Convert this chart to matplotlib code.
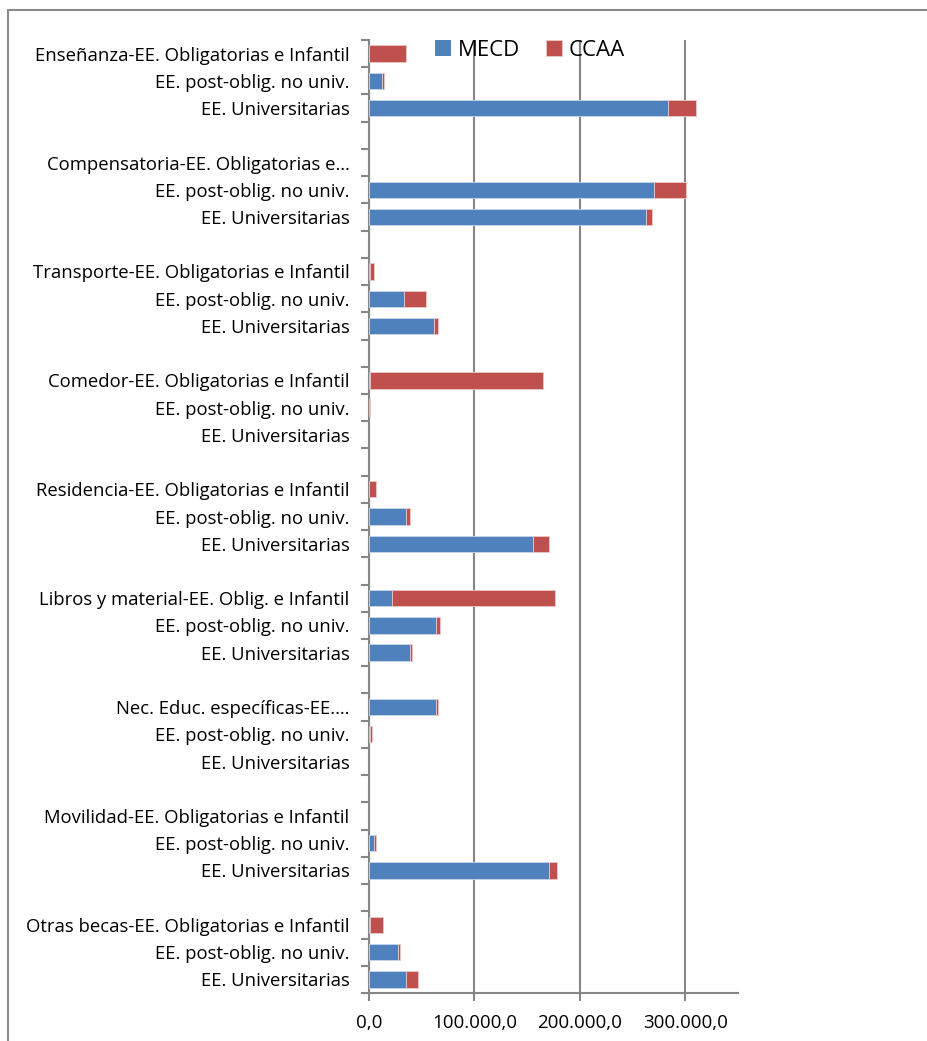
import matplotlib
matplotlib.use("Agg")
import matplotlib.pyplot as plt
import numpy as np
from matplotlib.ticker import FuncFormatter, FixedLocator
from matplotlib.patches import Rectangle

plt.rcParams['font.family'] = ['Liberation Sans Narrow', 'Open Sans', 'DejaVu Sans']

# categories, top to bottom ("" = empty spacer row)
labels = [
    "Enseñanza-EE. Obligatorias e Infantil", "EE. post-oblig. no univ.", "EE. Universitarias", "",
    "Compensatoria-EE. Obligatorias e…", "EE. post-oblig. no univ.", "EE. Universitarias", "",
    "Transporte-EE. Obligatorias e Infantil", "EE. post-oblig. no univ.", "EE. Universitarias", "",
    "Comedor-EE. Obligatorias e Infantil", "EE. post-oblig. no univ.", "EE. Universitarias", "",
    "Residencia-EE. Obligatorias e Infantil", "EE. post-oblig. no univ.", "EE. Universitarias", "",
    "Libros y material-EE. Oblig. e Infantil", "EE. post-oblig. no univ.", "EE. Universitarias", "",
    "Nec. Educ. específicas-EE.…", "EE. post-oblig. no univ.", "EE. Universitarias", "",
    "Movilidad-EE. Obligatorias e Infantil", "EE. post-oblig. no univ.", "EE. Universitarias", "",
    "Otras becas-EE. Obligatorias e Infantil", "EE. post-oblig. no univ.", "EE. Universitarias",
]

# thousands of euros
mecd = [
    0, 12.3, 284.0, 0,
    0, 270.4, 262.9, 0,
    0.5, 33.3, 61.3, 0,
    0.5, 0, 0, 0,
    0, 35.0, 155.7, 0,
    22.0, 63.5, 38.7, 0,
    63.5, 1.0, 0, 0,
    0, 5.0, 170.8, 0,
    1.0, 27.7, 35.0,
]
ccaa = [
    35.0, 2.1, 26.0, 0,
    0, 30.2, 5.7, 0,
    4.5, 20.5, 4.1, 0,
    164.3, 1.2, 0, 0,
    6.9, 4.0, 15.1, 0,
    154.4, 3.8, 2.2, 0,
    1.9, 2.0, 0, 0,
    0, 1.9, 7.5, 0,
    12.5, 1.9, 11.6,
]

mecd = np.array(mecd) * 1000
ccaa = np.array(ccaa) * 1000

fig = plt.figure(figsize=(9.27, 10.41), dpi=100)
ax = fig.add_axes([369 / 927, 48 / 1041, 369 / 927, 953 / 1041])

y = np.arange(len(labels))
blue = '#4F81BD'
red = '#C0504D'
# no outline on empty bars
lw_m = np.where(mecd > 0, 0.6, 0)
lw_c = np.where(ccaa > 0, 0.6, 0)
ax.barh(y, mecd, height=0.6, color=blue, edgecolor='#c9d6ea', linewidth=lw_m, label='MECD', zorder=3)
ax.barh(y, ccaa, left=mecd, height=0.6, color=red, edgecolor='#ecc9c8', linewidth=lw_c, label='CCAA', zorder=3)

ax.set_ylim(len(labels) - 0.5, -0.5)
ax.set_xlim(0, 350000)

ax.set_yticks(y)
ax.set_yticklabels(labels, fontsize=13.3)
ax.yaxis.set_minor_locator(FixedLocator(np.arange(-0.5, len(labels), 1)))
ax.tick_params(axis='y', which='major', length=0, pad=14)
ax.tick_params(axis='y', which='minor', length=6, width=1.5, color='#868686')

ax.set_xticks([0, 100000, 200000, 300000])
ax.xaxis.set_major_formatter(FuncFormatter(lambda v, p: f"{v:,.1f}".replace(",", "X").replace(".", ",").replace("X", ".")))
ax.tick_params(axis='x', length=6, width=1.5, color='#868686', labelsize=13.5, pad=9)

ax.grid(axis='x', color='#868686', linewidth=1.5, zorder=0)
for s in ['top', 'right']:
    ax.spines[s].set_visible(False)
for s in ['left', 'bottom']:
    ax.spines[s].set_color('#868686')
    ax.spines[s].set_linewidth(1.5)

fig.legend(loc='center', bbox_to_anchor=(530 / 927, 1 - 50 / 1041), ncol=2, frameon=False,
           fontsize=16, handlelength=0.7, handleheight=0.7, handletextpad=0.3, columnspacing=1.2)

fig.patches.append(Rectangle((8 / 927, -0.1), 1.2, 1.1 - 10 / 1041, transform=fig.transFigure,
                             fill=False, edgecolor='#8c8c8c', linewidth=1.5))

fig.savefig('out.png', dpi=100)
